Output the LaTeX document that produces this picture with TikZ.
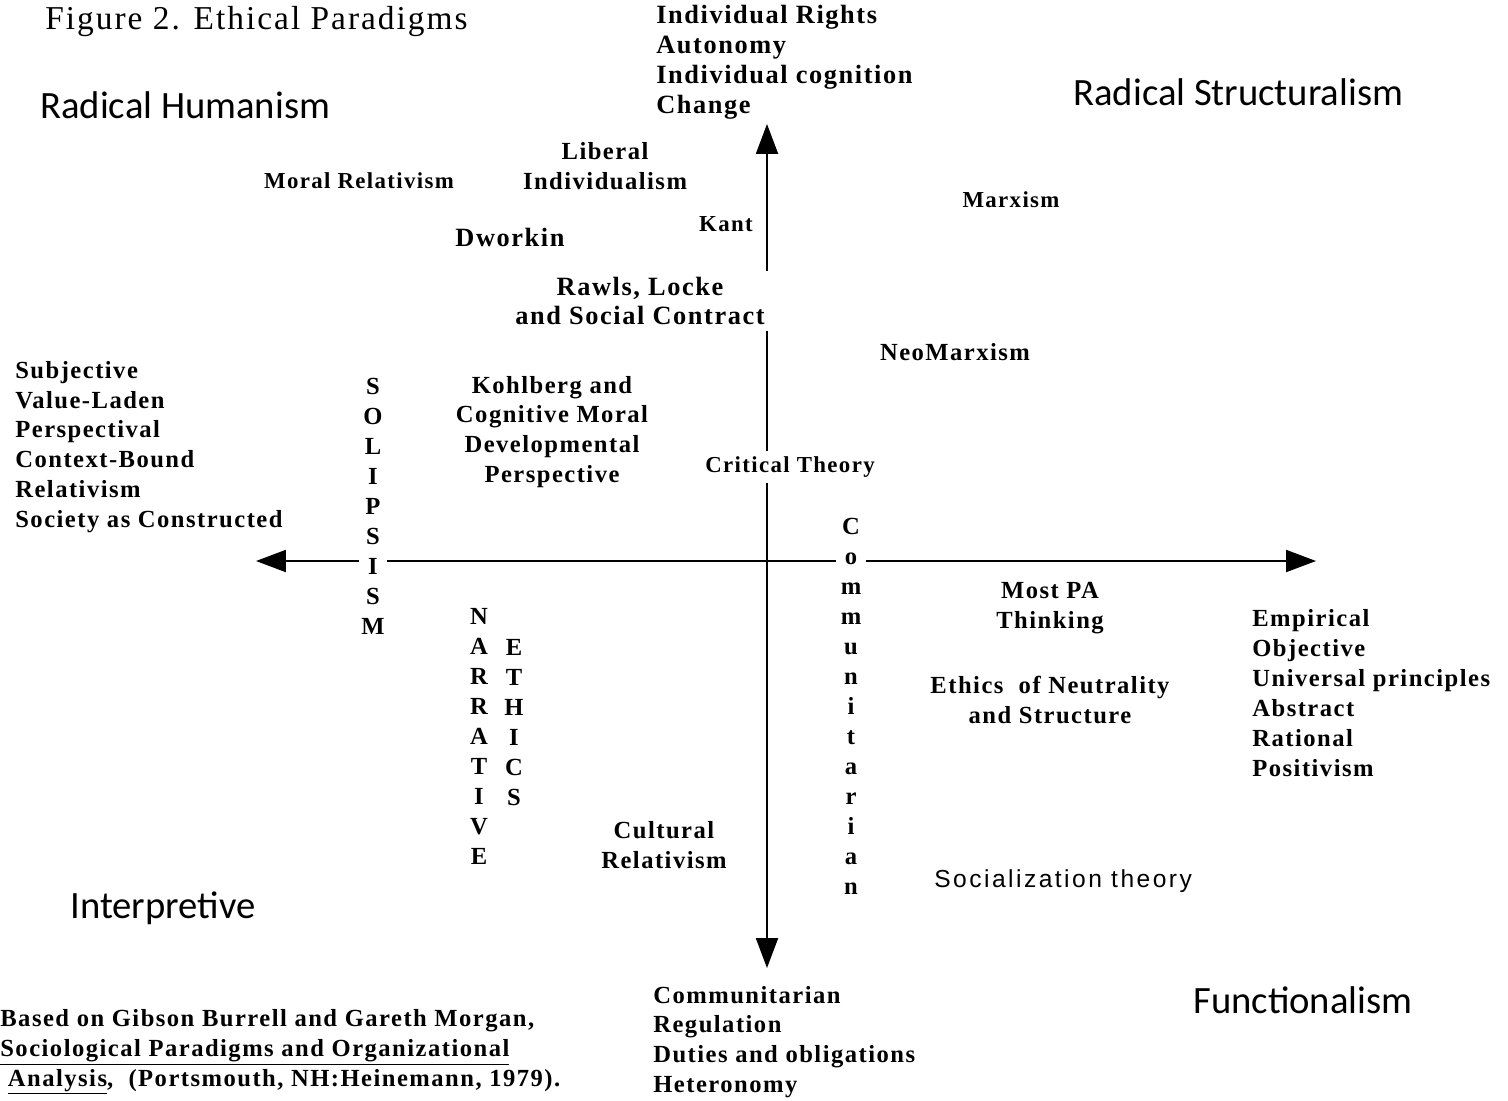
\documentclass[tikz,border=0pt]{standalone}
\usepackage{fontspec}
\setmainfont{Liberation Serif}[LetterSpace=6]
\newfontfamily\quadfont{Carlito}
\newfontfamily\plainsans{Liberation Sans}[LetterSpace=10]
\usetikzlibrary{arrows.meta}

\begin{document}
\begin{tikzpicture}[x=0.02cm,y=-0.02cm,
    txt/.style={inner sep=0pt,font=\bfseries\fontsize{14}{17}\selectfont},
    bigtxt/.style={inner sep=0pt,font=\bfseries\fontsize{15}{17}\selectfont},
    smalltxt/.style={inner sep=0pt,font=\bfseries\fontsize{13}{17}\selectfont},
    quad/.style={inner sep=0pt,anchor=west,font=\quadfont\fontsize{22}{26}\selectfont},
    letter/.style={inner xsep=5pt,inner ysep=0pt,text height=9pt,text depth=0pt,font=\bfseries\fontsize{14}{17}\selectfont},
    axis/.style={line width=1.1pt},
    axisarrow/.style={axis,-{Triangle[length=17pt,width=12.5pt]}}]
    \useasboundingbox (0,0) rectangle (1508,1100);
    \coordinate (o) at (767,561);
    \coordinate (toptip) at (767,124);
    \coordinate (bottip) at (767,968);
    \coordinate (lefttip) at (256,561);
    \coordinate (righttip) at (1316,561);

    \node[anchor=west,inner sep=0pt,font=\fontsize{19}{22}\selectfont] (title) at (45,22) {Figure 2. Ethical Paradigms};
    \node[quad] (humanism) at (40,105) {Radical Humanism};
    \node[quad] (structuralism) at (1073,92) {Radical Structuralism};
    \node[quad] (interpretive) at (70,908) {Interpretive};
    \node[quad] (functionalism) at (1193,1000) {Functionalism};

    \node[bigtxt,align=left,anchor=west] (rights) at (656,62) {Individual Rights\\Autonomy\\Individual cognition\\Change};
    \node[txt,align=left,anchor=west] (commlist) at (653,1042) {Communitarian\\Regulation\\Duties and obligations\\Heteronomy};
    \node[txt,align=left,anchor=west] (subj) at (15,447) {Subjective\\Value-Laden\\Perspectival\\Context-Bound\\Relativism\\Society as Constructed};
    \node[txt,align=left,anchor=west] (emp) at (1252,693) {Empirical\\Objective\\Universal principles\\Abstract\\Rational\\Positivism};

    \node[smalltxt] (moral) at (359,181) {Moral Relativism};
    \node[txt,align=center] (liberal) at (605,166) {Liberal\\Individualism};
    \node[bigtxt] (dworkin) at (510,237) {Dworkin};
    \node[smalltxt] (kant) at (726,224) {Kant};
    \node[smalltxt] (marx) at (1011,200) {Marxism};
    \node[bigtxt,align=center,inner sep=3pt] (rawls) at (640,301) {Rawls, Locke\\and Social Contract};
    \node[txt] (neo) at (955,352) {NeoMarxism};
    \node[txt,align=center] (kohl) at (552,432) {Kohlberg and\\Cognitive Moral\\Developmental\\Perspective};
    \node[smalltxt,inner sep=3pt] (crit) at (790,467) {Critical Theory};
    \node[txt,align=center] (pa) at (1050,608) {Most PA\\Thinking};
    \node[txt,align=center] (neutral) at (1050,700) {Ethics~ of Neutrality\\and Structure};
    \node[txt,align=center] (cult) at (664,845) {Cultural\\Relativism};
    \node[inner sep=0pt,anchor=west,font=\plainsans\fontsize{14}{17}\selectfont] (social) at (934,881) {Socialization theory};

    \node[txt,align=left,anchor=west] (source) at (0,1052) {Based on Gibson Burrell and Gareth Morgan,\\\underline{Sociological Paradigms and Organizational}\\\ \underline{Analysis},\ \ (Portsmouth, NH:Heinemann, 1979).};

    \foreach \l [count=\i] in {S,O,L,I,P,S,I,S,M}
        \node[letter] (sol\i) at (373,{387+30*(\i-1)}) {\l};
    \foreach \l [count=\i] in {C,o,m,m,u,n,i,t,a,r,i,a,n}
        \node[letter] (com\i) at (851,{527+30*(\i-1)}) {\l};
    \foreach \l [count=\i] in {N,A,R,R,A,T,I,V,E}
        \node[letter] (nar\i) at (479,{617+30*(\i-1)}) {\l};
    \foreach \l [count=\i] in {E,T,H,I,C,S}
        \node[letter] (eth\i) at (514,{648+30*(\i-1)}) {\l};

    \draw[axisarrow] (rawls.north -| o) -- (toptip);
    \draw[axis] (rawls.south -| o) -- (crit.north -| o);
    \draw[axisarrow] (crit.south -| o) -- (bottip);
    \draw[axisarrow] (sol7.west |- o) -- (lefttip);
    \draw[axis] (sol7.east |- o) -- (com2.west |- o);
    \draw[axisarrow] (com2.east |- o) -- (righttip);
\end{tikzpicture}
\end{document}
